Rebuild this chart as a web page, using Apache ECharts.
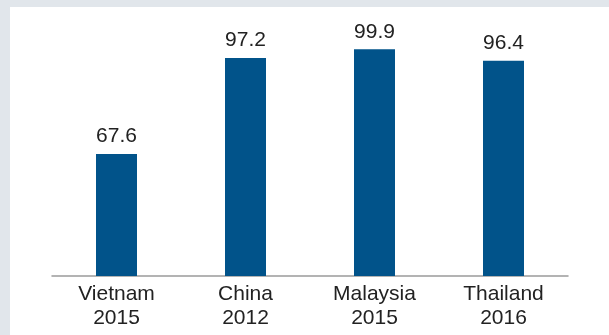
<!DOCTYPE html>
<html>
<head>
<meta charset="utf-8">
<script src="https://cdn.jsdelivr.net/npm/echarts@6/dist/echarts.min.js"></script>
<style>
  html, body { margin: 0; padding: 0; background: #e1e6eb; }
  #chart { width: 609px; height: 335px; }
</style>
</head>
<body>
<div id="chart"></div>
<script>
// Country / survey year categories and their values
const countries = ['Vietnam', 'China', 'Malaysia', 'Thailand'];
const years = ['2015', '2012', '2015', '2016'];
const values = [67.6, 97.2, 99.9, 96.4];

const categories = countries.map((c, i) => c + '\n' + years[i]);
const fontFamily = '"Liberation Sans Narrow", "Arial Narrow", "Liberation Sans", sans-serif';

const chart = echarts.init(document.getElementById('chart'), null, { renderer: 'canvas' });
chart.setOption({
  backgroundColor: '#e1e6eb',
  animation: false,
  graphic: [{
    type: 'rect',
    left: 10, top: 7,
    shape: { width: 599, height: 328 },
    style: { fill: '#ffffff' },
    z: -10
  }],
  grid: { left: 52, right: 41, top: 49, bottom: 59, containLabel: false },
  xAxis: {
    type: 'category',
    data: categories,
    axisLine: { show: true, lineStyle: { color: '#9a9a9a', width: 1.5 } },
    axisTick: { show: false },
    axisLabel: {
      color: '#222222',
      fontFamily: fontFamily,
      fontSize: 21,
      lineHeight: 24,
      margin: 6
    }
  },
  yAxis: {
    type: 'value',
    min: 30,
    max: 100,
    show: false,
    splitLine: { show: false }
  },
  series: [{
    type: 'bar',
    data: values,
    barWidth: 41,
    itemStyle: { color: '#01538a' },
    label: {
      show: true,
      position: 'top',
      distance: 7,
      color: '#222222',
      fontFamily: fontFamily,
      fontSize: 21,
      formatter: p => p.value.toFixed(1)
    }
  }]
});
</script>
</body>
</html>
